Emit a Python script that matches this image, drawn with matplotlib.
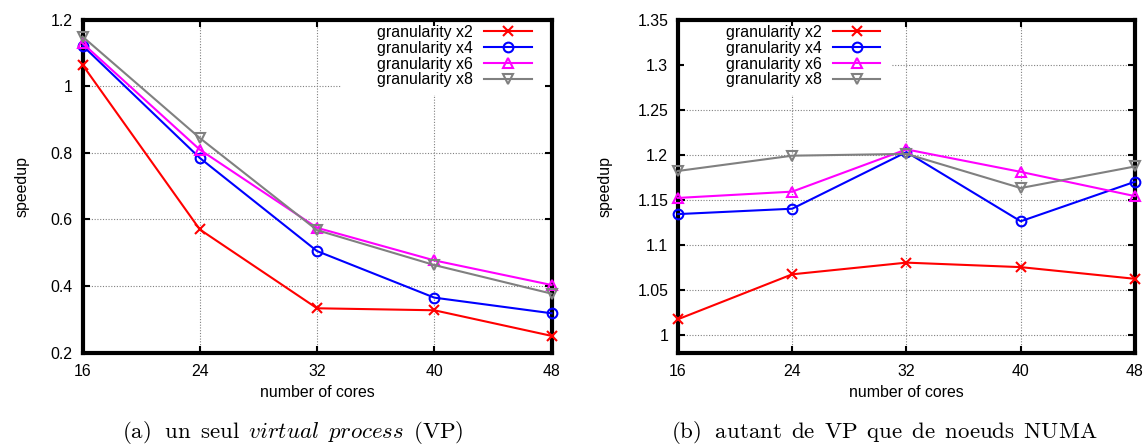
"""Speedup vs number of cores for several task granularities (two configurations)."""

import matplotlib
matplotlib.use("Agg")
import matplotlib.pyplot as plt
from matplotlib.patches import Rectangle

plt.rcParams["font.family"] = ["Liberation Sans", "DejaVu Sans"]
plt.rcParams["mathtext.fontset"] = "cm"

cores = [16, 24, 32, 40, 48]
series_labels = ["granularity x2", "granularity x4", "granularity x6", "granularity x8"]

# (a) a single virtual process
speedup_a_x2 = [1.065, 0.570, 0.333, 0.327, 0.250]
speedup_a_x4 = [1.123, 0.785, 0.505, 0.365, 0.318]
speedup_a_x6 = [1.130, 0.810, 0.575, 0.477, 0.403]
speedup_a_x8 = [1.150, 0.845, 0.568, 0.463, 0.377]

# (b) one VP per NUMA node
speedup_b_x2 = [1.017, 1.067, 1.080, 1.075, 1.062]
speedup_b_x4 = [1.134, 1.140, 1.203, 1.126, 1.170]
speedup_b_x6 = [1.152, 1.159, 1.206, 1.181, 1.154]
speedup_b_x8 = [1.182, 1.199, 1.201, 1.163, 1.187]

COLORS = ["#ff0000", "#0000ff", "#ff00ff", "#808080"]
MARKERS = ["x", "o", "^", "v"]
FS = 11.4


def panel(ax, series, ylim, yticks, legend_x, ylabel_x, key_box):
    for vals, lab, c, m in zip(series, series_labels, COLORS, MARKERS):
        ax.plot(cores, vals, color=c, marker=m, markersize=7, linewidth=1.5,
                markerfacecolor="none", markeredgecolor=c, markeredgewidth=1.5,
                label=lab, clip_on=False, zorder=3)
    ax.set_xlim(16, 48)
    ax.set_ylim(*ylim)
    ax.set_xticks(cores)
    ax.set_yticks(yticks)
    ax.set_yticklabels([f"{t:g}" for t in yticks])
    ax.grid(True, color="#808080", linestyle=(0, (1, 1.5)), linewidth=0.8)
    ax.set_axisbelow(True)
    ax.tick_params(direction="in", length=5, width=1.5, top=True, right=True,
                   labelsize=FS)
    ax.tick_params(axis="x", pad=8)
    ax.tick_params(axis="y", pad=7)
    for s in ax.spines.values():
        s.set_linewidth(3)
    ax.set_xlabel("number of cores", fontsize=FS)
    ax.set_ylabel("speedup", fontsize=FS)
    ax.xaxis.set_label_coords(0.5, -0.098)
    ax.yaxis.set_label_coords(ylabel_x, 0.5)
    # gnuplot-style blanked key area (grid hidden behind the key)
    x0, x1, y0, y1 = key_box
    ax.add_patch(Rectangle((x0, y0), x1 - x0, y1 - y0, transform=ax.transAxes,
                           facecolor="white", edgecolor="none", zorder=1))
    ax.legend(loc="upper left", bbox_to_anchor=(legend_x, 0.985),
              markerfirst=False, fontsize=FS, frameon=False,
              handlelength=3.0, labelspacing=0.05, borderpad=0.0,
              handletextpad=0.7, borderaxespad=0.0)


fig = plt.figure(figsize=(11.45, 4.47), dpi=100)
ax1 = fig.add_axes([0.0721, 0.2114, 0.4096, 0.7439])
ax2 = fig.add_axes([0.5921, 0.2114, 0.3991, 0.7439])

panel(ax1, [speedup_a_x2, speedup_a_x4, speedup_a_x6, speedup_a_x8],
      (0.2, 1.2), [0.2, 0.4, 0.6, 0.8, 1.0, 1.2], 0.628, -0.114,
      (0.551, 0.987, 0.774, 0.982))
panel(ax2, [speedup_b_x2, speedup_b_x4, speedup_b_x6, speedup_b_x8],
      (0.98, 1.35), [1.0, 1.05, 1.1, 1.15, 1.2, 1.25, 1.3, 1.35], 0.105, -0.144,
      (0.013, 0.466, 0.774, 0.982))

fig.text(0.256, 0.033,
         r"$\mathrm{(a)\ \ un\ \,seul\ \,}\mathit{virtual\ \,process}\mathrm{\ \,(VP)}$",
         ha="center", va="center", fontsize=16.5)
fig.text(0.772, 0.033,
         r"$\mathrm{(b)\ \ autant\ \,de\ \,VP\ \,que\ \,de\ \,noeuds\ \,NUMA}$",
         ha="center", va="center", fontsize=16.5)

fig.savefig("out.png", dpi=100, facecolor="white")
